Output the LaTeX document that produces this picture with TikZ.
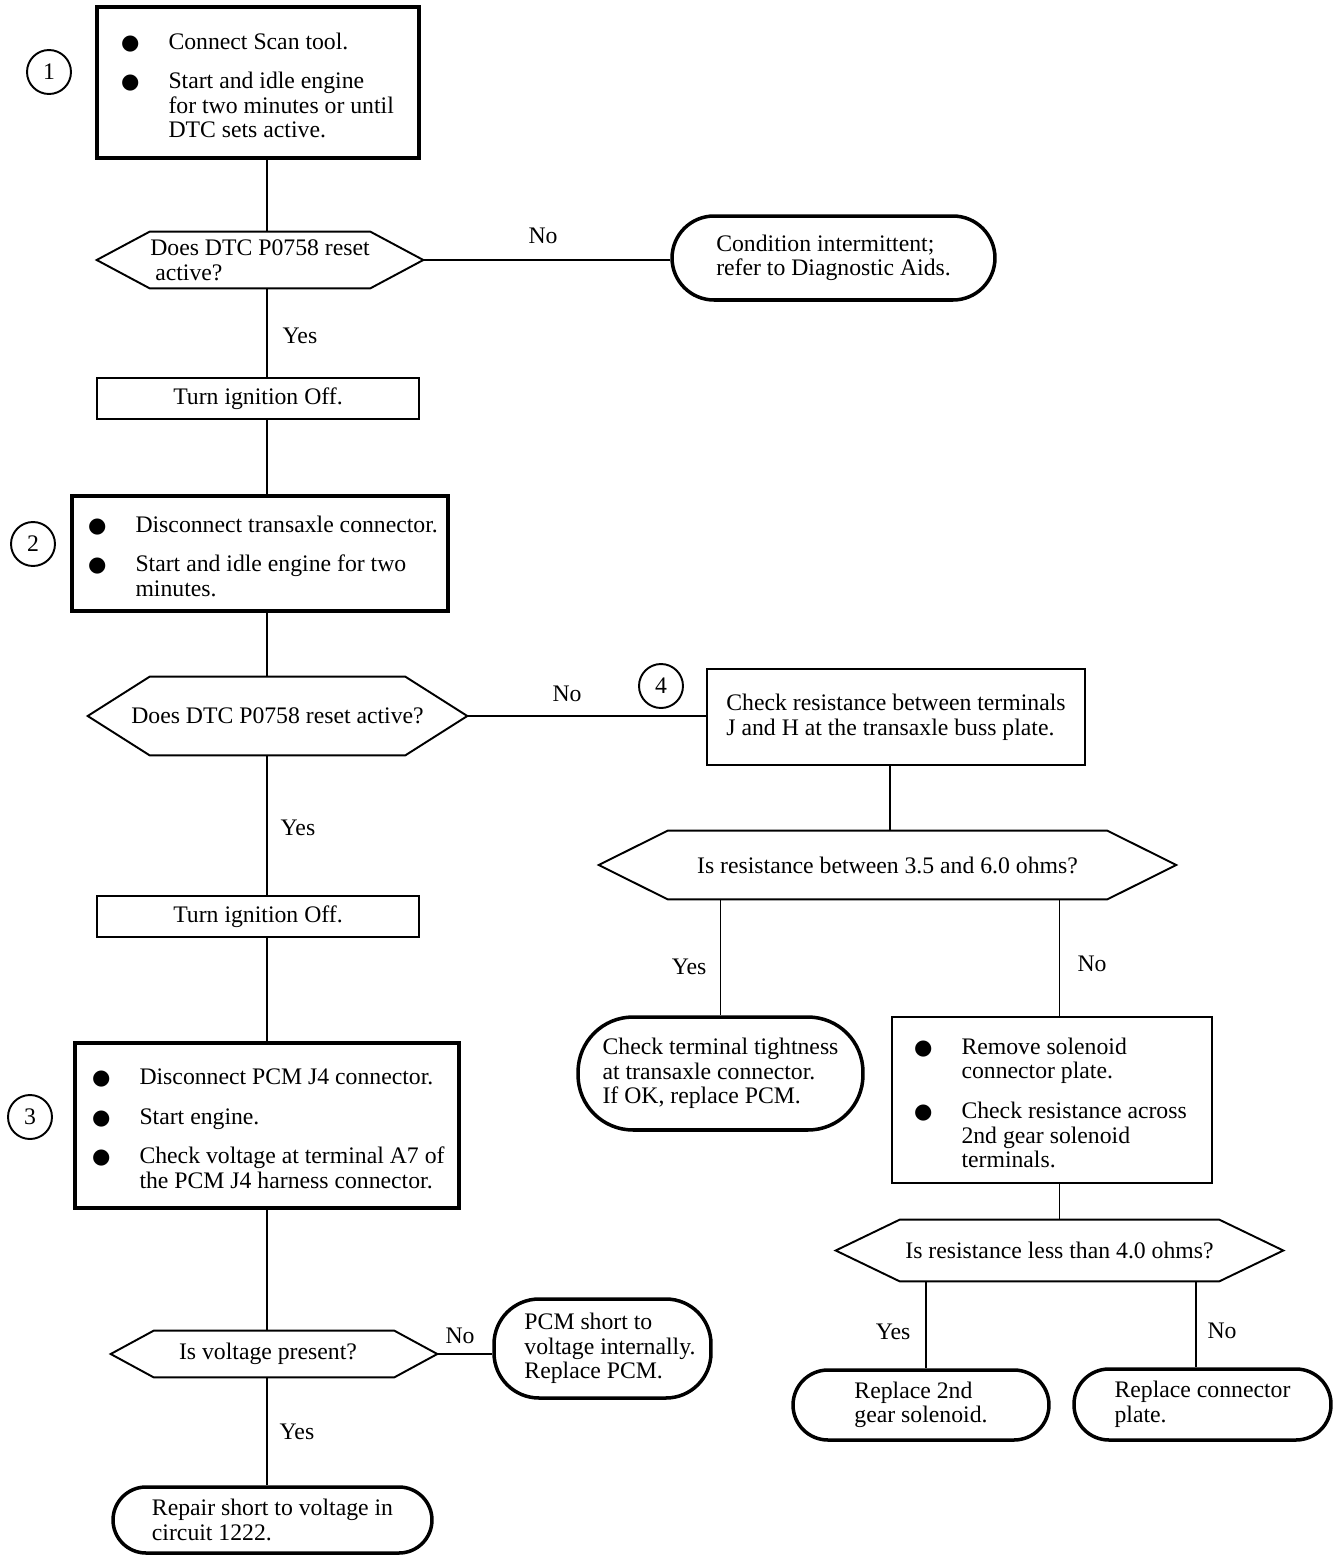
\documentclass[tikz,border=0pt]{standalone}
\usepackage{fontspec}
\setmainfont{Liberation Serif}
\newfontfamily\symf{DejaVu Sans}
\usetikzlibrary{positioning}

\tikzset{
  txt/.style={font=\fontsize{13.5}{14}\selectfont, inner sep=0pt},
  stepbox/.style={draw, rectangle, line width=2pt, txt},
  plainbox/.style={draw, rectangle, line width=1.4pt, txt, align=center},
  termbox/.style={draw, rectangle, line width=2pt, txt, align=left},
  decision/.style={rectangle, txt, align=left},
  numcirc/.style={draw, circle, line width=1.1pt, minimum size=0.88cm, txt},
  lbl/.style={txt},
  link/.style={line width=1.1pt},
}

\newcommand{\bul}{\makebox[0.95cm][l]{\symf\fontsize{12}{14}\selectfont ●}}
\newcommand{\steplist}[2]{\raisebox{-0.12cm}[\height][\depth]{\makebox[#1][l]{\begin{tabular}{@{}l@{}l@{}}#2\end{tabular}}}}
\newcommand{\hexa}[2]{\draw[link] (#1.west) -- ([xshift=#2]#1.north west) -- ([xshift=-#2]#1.north east) -- (#1.east) -- ([xshift=-#2]#1.south east) -- ([xshift=#2]#1.south west) -- cycle;}

\begin{document}
\begin{tikzpicture}[x=0.02cm,y=-0.02cm]
\useasboundingbox (0,0) rectangle (1344,1562);
\coordinate (spine) at (267,0);

% left column
\node[stepbox, inner xsep=0.48cm, minimum width=6.44cm, minimum height=3.02cm] (box1) at (258,82.5)
  {\steplist{5.48cm}{\bul & Connect Scan tool.\\[0.3cm] \bul & Start and idle engine\\ & for two minutes or until\\ & DTC sets active.}};
\node[numcirc] (n1) at (49,72) {1};
\node[decision, minimum width=6.52cm, minimum height=1.12cm] (dec1) at (260,260) {Does DTC P0758 reset\\\hspace{0.1cm}active?};
\hexa{dec1}{1.06cm}
\node[lbl] (no1) at (543,236) {No};
\node[termbox, minimum width=6.46cm, minimum height=1.68cm, rounded corners=0.84cm] (end1) at (833.5,258) {Condition intermittent;\\refer to Diagnostic Aids.};
\node[lbl] (yes1) at (300,336) {Yes};
\node[plainbox, minimum width=6.44cm, minimum height=0.82cm] (off1) at (258,398.5) {Turn ignition Off.};
\node[stepbox, inner xsep=0.32cm, minimum width=7.52cm, minimum height=2.30cm] (box2) at (260,553.5)
  {\steplist{6.88cm}{\bul & Disconnect transaxle connector.\\[0.3cm] \bul & Start and idle engine for two\\ & minutes.}};
\node[numcirc] (n2) at (33,544) {2};
\node[decision, minimum width=7.58cm, minimum height=1.56cm] (dec2) at (277.5,716) {Does DTC P0758 reset active?};
\hexa{dec2}{1.24cm}
\node[lbl] (no2) at (567,694) {No};
\node[lbl] (yes2) at (298,828) {Yes};
\node[plainbox, minimum width=6.44cm, minimum height=0.82cm] (off2) at (258,916.5) {Turn ignition Off.};
\node[stepbox, inner xsep=0.34cm, minimum width=7.68cm, minimum height=3.30cm] (box3) at (267,1125.5)
  {\steplist{7.0cm}{\bul & Disconnect PCM J4 connector.\\[0.3cm] \bul & Start engine.\\[0.3cm] \bul & Check voltage at terminal A7 of\\ & the PCM J4 harness connector.}};
\node[numcirc] (n3) at (30,1117) {3};
\node[decision, minimum width=6.52cm, minimum height=0.92cm] (dec3) at (274,1354) {\hspace*{-0.24cm}Is voltage present?};
\hexa{dec3}{0.86cm}
\node[lbl] (no3) at (460,1336) {No};
\node[termbox, minimum width=4.34cm, minimum height=1.98cm, rounded corners=0.9cm] (end2) at (602.5,1348.5)
  {\hspace*{0.3cm}PCM short to\\\hspace*{0.3cm}voltage internally.\\\hspace*{0.3cm}Replace PCM.};
\node[lbl] (yes3) at (297,1432) {Yes};
\node[termbox, minimum width=6.38cm, minimum height=1.32cm, rounded corners=0.66cm] (end3) at (272.5,1520) {Repair short to voltage in\\circuit 1222.};

% right branch
\node[numcirc] (n4) at (661,686) {4};
\node[plainbox, align=left, line width=1.1pt, minimum width=7.56cm, minimum height=1.92cm] (box4) at (896,717) {Check resistance between terminals\\J and H at the transaxle buss plate.};
\node[decision, minimum width=11.54cm, minimum height=1.36cm] (dec4) at (887.5,865) {Is resistance between 3.5 and 6.0 ohms?};
\hexa{dec4}{1.38cm}
\node[lbl] (yes4) at (689,967) {Yes};
\node[lbl] (no4) at (1092,964) {No};
\node[termbox, minimum width=5.70cm, minimum height=2.26cm, rounded corners=1.1cm] (end4) at (720.5,1073.5) {Check terminal tightness\\at transaxle connector.\\If OK, replace PCM.};
\node[stepbox, line width=1.1pt, inner xsep=0.44cm, minimum width=6.40cm, minimum height=3.32cm] (box5) at (1052,1100)
  {\steplist{5.52cm}{\bul & Remove solenoid\\ & connector plate.\\[0.3cm] \bul & Check resistance across\\ & 2nd gear solenoid\\ & terminals.}};
\node[decision, minimum width=8.94cm, minimum height=1.22cm] (dec5) at (1059.5,1250.5) {Is resistance less than 4.0 ohms?};
\hexa{dec5}{1.28cm}
\node[lbl] (yes5) at (893,1332) {Yes};
\node[lbl] (no5) at (1222,1331) {No};
\node[termbox, minimum width=5.12cm, minimum height=1.40cm, rounded corners=0.7cm] (end5) at (921,1405) {Replace 2nd\\gear solenoid.};
\node[termbox, minimum width=5.14cm, minimum height=1.42cm, rounded corners=0.7cm] (end6) at (1202.5,1404.5) {Replace connector\\plate.};

% connectors
\draw[link] (box1.south -| spine) -- (dec1.north -| spine);
\draw[link] (dec1.east) -- (dec1.east -| end1.west);
\draw[link] (dec1.south -| spine) -- (off1.north -| spine);
\draw[link] (off1.south -| spine) -- (box2.north -| spine);
\draw[link] (box2.south -| spine) -- (dec2.north -| spine);
\draw[link] (dec2.east) -- (dec2.east -| box4.west);
\draw[link] (dec2.south -| spine) -- (off2.north -| spine);
\draw[link] (off2.south -| spine) -- (box3.north -| spine);
\draw[link] (box3.south -| spine) -- (dec3.north -| spine);
\draw[link] (dec3.east) -- (dec3.east -| end2.west);
\draw[link] (dec3.south -| spine) -- (end3.north -| spine);
\draw[link] ([xshift=-0.12cm]box4.south) -- ([xshift=-0.12cm]box4.south |- dec4.north);
\draw[link] (dec4.south -| end4.north) -- (end4.north);
\draw[link] (dec4.south -| dec5.north) -- (box5.north -| dec5.north);
\draw[link] (box5.south -| dec5.north) -- (dec5.north);
\draw[link] ([xshift=0.1cm]end5.north |- dec5.south) -- ([xshift=0.1cm]end5.north);
\draw[link] ([xshift=-0.13cm]end6.north |- dec5.south) -- ([xshift=-0.13cm]end6.north);
\end{tikzpicture}
\end{document}
